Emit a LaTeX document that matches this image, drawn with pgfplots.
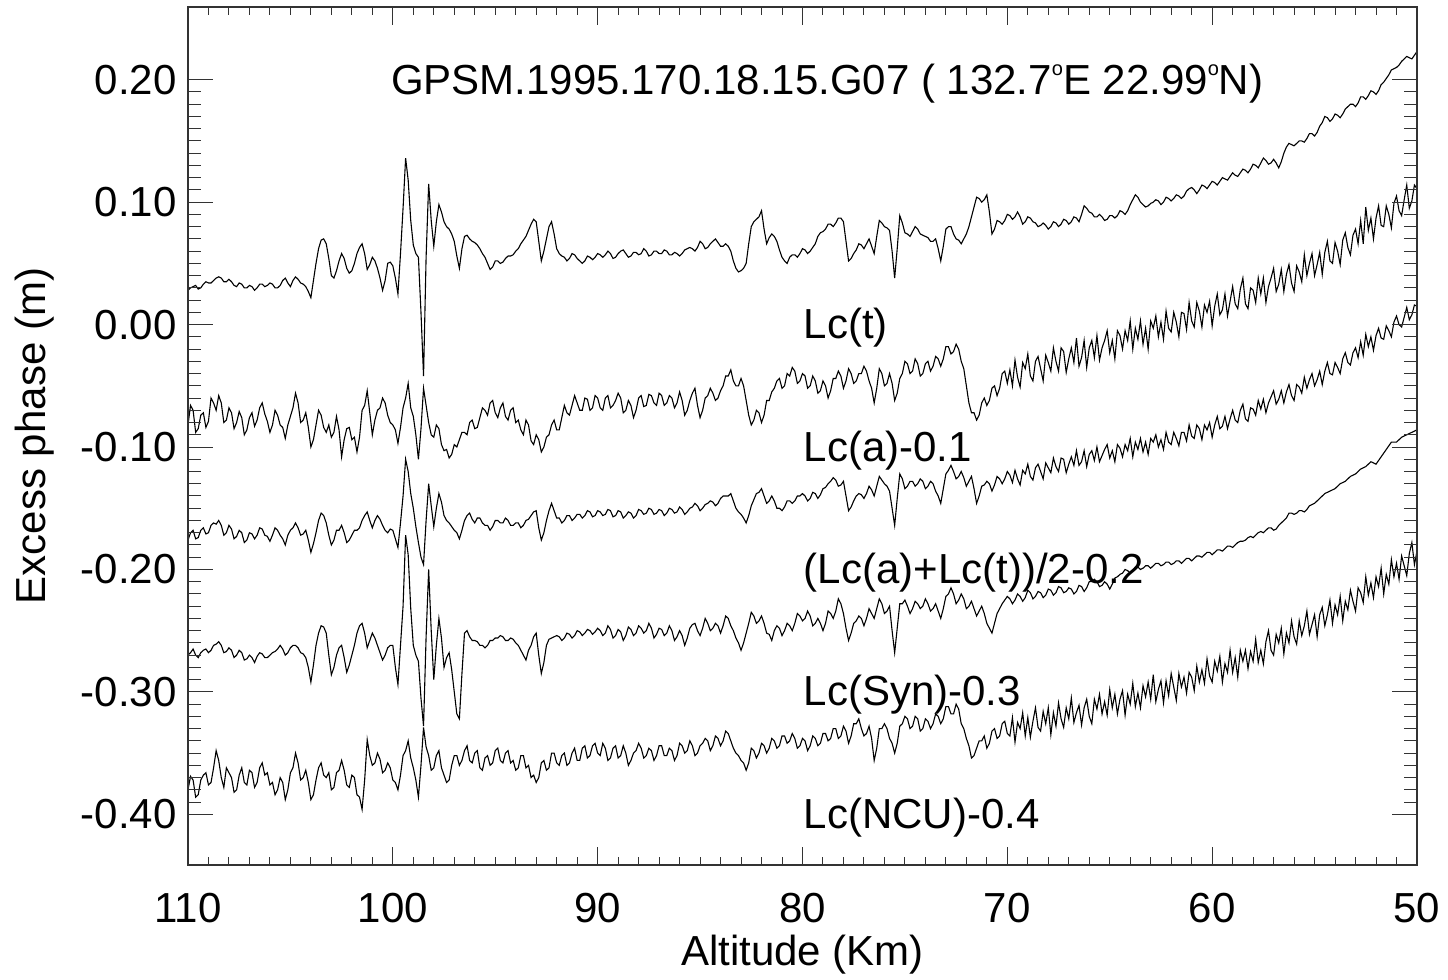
\documentclass[border=0pt]{standalone}
\usepackage{fontspec}
\setmainfont{Liberation Sans}
\usepackage{pgfplots}
\pgfplotsset{compat=1.18}
\usepackage{pgfplotstable}
\pgfplotstableread{
x t a m s n
110 0.028 -0.082 -0.176 -0.270 -0.380
109.875 0.030 -0.066 -0.170 -0.268 -0.369
109.75 0.031 -0.070 -0.168 -0.265 -0.372
109.625 0.032 -0.088 -0.175 -0.270 -0.386
109.5 0.029 -0.085 -0.174 -0.272 -0.384
109.375 0.030 -0.074 -0.168 -0.268 -0.372
109.25 0.033 -0.072 -0.166 -0.266 -0.368
109.125 0.035 -0.084 -0.171 -0.265 -0.366
109 0.034 -0.079 -0.170 -0.268 -0.376
108.875 0.034 -0.060 -0.164 -0.266 -0.374
108.75 0.036 -0.064 -0.162 -0.262 -0.362
108.625 0.038 -0.070 -0.163 -0.261 -0.348
108.5 0.039 -0.058 -0.160 -0.259 -0.356
108.375 0.038 -0.064 -0.164 -0.262 -0.370
108.25 0.035 -0.080 -0.172 -0.268 -0.378
108.125 0.035 -0.078 -0.170 -0.267 -0.362
108 0.037 -0.068 -0.164 -0.264 -0.366
107.875 0.035 -0.072 -0.167 -0.266 -0.370
107.75 0.032 -0.085 -0.175 -0.272 -0.382
107.625 0.031 -0.080 -0.173 -0.270 -0.380
107.5 0.034 -0.071 -0.168 -0.266 -0.368
107.375 0.033 -0.076 -0.170 -0.268 -0.362
107.25 0.030 -0.090 -0.178 -0.274 -0.374
107.125 0.030 -0.086 -0.176 -0.273 -0.376
107 0.032 -0.076 -0.170 -0.270 -0.364
106.875 0.031 -0.072 -0.171 -0.272 -0.366
106.75 0.028 -0.083 -0.175 -0.276 -0.378
106.625 0.030 -0.078 -0.172 -0.271 -0.374
106.5 0.033 -0.068 -0.166 -0.268 -0.362
106.375 0.033 -0.064 -0.167 -0.269 -0.358
106.25 0.031 -0.073 -0.172 -0.272 -0.368
106.125 0.032 -0.079 -0.173 -0.272 -0.366
106 0.034 -0.088 -0.177 -0.270 -0.376
105.875 0.033 -0.082 -0.172 -0.268 -0.374
105.75 0.030 -0.070 -0.166 -0.267 -0.384
105.625 0.030 -0.074 -0.168 -0.265 -0.380
105.5 0.032 -0.082 -0.172 -0.262 -0.370
105.375 0.036 -0.084 -0.175 -0.265 -0.374
105.25 0.038 -0.093 -0.180 -0.270 -0.388
105.125 0.034 -0.082 -0.172 -0.268 -0.380
105 0.031 -0.075 -0.168 -0.264 -0.366
104.875 0.036 -0.068 -0.166 -0.262 -0.362
104.75 0.039 -0.056 -0.162 -0.262 -0.350
104.625 0.037 -0.064 -0.166 -0.264 -0.358
104.5 0.034 -0.080 -0.172 -0.268 -0.372
104.375 0.033 -0.078 -0.171 -0.269 -0.370
104.25 0.031 -0.072 -0.168 -0.272 -0.364
104.125 0.027 -0.084 -0.176 -0.280 -0.374
104 0.022 -0.100 -0.186 -0.292 -0.388
103.875 0.036 -0.094 -0.179 -0.278 -0.384
103.75 0.050 -0.082 -0.170 -0.262 -0.372
103.625 0.062 -0.070 -0.160 -0.252 -0.362
103.5 0.069 -0.074 -0.154 -0.246 -0.358
103.375 0.070 -0.084 -0.156 -0.247 -0.368
103.25 0.066 -0.088 -0.162 -0.252 -0.370
103.125 0.054 -0.082 -0.172 -0.270 -0.366
103 0.040 -0.092 -0.180 -0.286 -0.380
102.875 0.038 -0.088 -0.176 -0.280 -0.378
102.75 0.044 -0.075 -0.168 -0.270 -0.366
102.625 0.052 -0.086 -0.168 -0.264 -0.364
102.5 0.058 -0.108 -0.164 -0.262 -0.356
102.375 0.054 -0.094 -0.170 -0.272 -0.364
102.25 0.046 -0.085 -0.178 -0.284 -0.376
102.125 0.042 -0.084 -0.176 -0.278 -0.378
102 0.044 -0.094 -0.172 -0.270 -0.368
101.875 0.050 -0.092 -0.168 -0.262 -0.370
101.75 0.058 -0.104 -0.168 -0.252 -0.384
101.625 0.063 -0.092 -0.166 -0.246 -0.386
101.5 0.066 -0.070 -0.160 -0.244 -0.396
101.375 0.058 -0.066 -0.156 -0.252 -0.372
101.25 0.045 -0.054 -0.153 -0.264 -0.339
101.125 0.049 -0.072 -0.160 -0.258 -0.352
101 0.055 -0.090 -0.166 -0.252 -0.360
100.875 0.052 -0.078 -0.160 -0.256 -0.358
100.75 0.046 -0.070 -0.156 -0.262 -0.350
100.625 0.038 -0.068 -0.159 -0.268 -0.355
100.5 0.028 -0.060 -0.164 -0.274 -0.366
100.375 0.036 -0.064 -0.168 -0.270 -0.364
100.25 0.050 -0.074 -0.170 -0.264 -0.358
100.125 0.051 -0.080 -0.167 -0.262 -0.362
100 0.048 -0.082 -0.168 -0.262 -0.372
99.875 0.038 -0.086 -0.175 -0.280 -0.374
99.75 0.025 -0.097 -0.182 -0.294 -0.380
99.625 0.058 -0.084 -0.162 -0.262 -0.368
99.5 0.095 -0.068 -0.140 -0.230 -0.352
99.375 0.136 -0.060 -0.110 -0.172 -0.348
99.25 0.118 -0.048 -0.120 -0.188 -0.340
99.125 0.085 -0.068 -0.138 -0.232 -0.354
99 0.065 -0.075 -0.150 -0.262 -0.362
98.875 0.058 -0.090 -0.165 -0.270 -0.372
98.75 0.055 -0.110 -0.178 -0.275 -0.386
98.625 0.010 -0.085 -0.190 -0.305 -0.360
98.5 -0.042 -0.052 -0.196 -0.328 -0.329
98.375 0.055 -0.066 -0.160 -0.255 -0.345
98.25 0.115 -0.080 -0.130 -0.200 -0.352
98.125 0.085 -0.090 -0.148 -0.250 -0.364
98 0.064 -0.092 -0.165 -0.290 -0.362
97.875 0.084 -0.082 -0.150 -0.262 -0.352
97.75 0.098 -0.085 -0.138 -0.240 -0.348
97.625 0.092 -0.098 -0.145 -0.256 -0.362
97.5 0.084 -0.103 -0.156 -0.280 -0.368
97.375 0.080 -0.102 -0.160 -0.272 -0.374
97.25 0.078 -0.109 -0.162 -0.268 -0.372
97.125 0.074 -0.106 -0.165 -0.282 -0.360
97 0.068 -0.098 -0.168 -0.300 -0.352
96.875 0.056 -0.100 -0.170 -0.318 -0.352
96.75 0.046 -0.094 -0.175 -0.322 -0.360
96.625 0.062 -0.088 -0.168 -0.285 -0.356
96.5 0.072 -0.088 -0.160 -0.252 -0.348
96.375 0.073 -0.090 -0.156 -0.250 -0.344
96.25 0.070 -0.080 -0.154 -0.255 -0.356
96.125 0.068 -0.078 -0.159 -0.258 -0.358
96 0.067 -0.085 -0.162 -0.258 -0.350
95.875 0.065 -0.084 -0.158 -0.259 -0.348
95.75 0.062 -0.076 -0.158 -0.262 -0.362
95.625 0.058 -0.068 -0.162 -0.262 -0.364
95.5 0.055 -0.070 -0.164 -0.264 -0.354
95.375 0.050 -0.074 -0.164 -0.262 -0.352
95.25 0.045 -0.064 -0.168 -0.258 -0.360
95.125 0.047 -0.062 -0.165 -0.258 -0.358
95 0.052 -0.072 -0.160 -0.256 -0.348
94.875 0.052 -0.076 -0.160 -0.256 -0.346
94.75 0.050 -0.068 -0.162 -0.254 -0.356
94.625 0.051 -0.064 -0.162 -0.255 -0.358
94.5 0.054 -0.075 -0.158 -0.258 -0.350
94.375 0.056 -0.078 -0.160 -0.258 -0.348
94.25 0.056 -0.070 -0.164 -0.256 -0.358
94.125 0.057 -0.068 -0.164 -0.257 -0.356
94 0.060 -0.080 -0.162 -0.260 -0.364
93.875 0.062 -0.078 -0.162 -0.262 -0.362
93.75 0.066 -0.086 -0.166 -0.266 -0.352
93.625 0.069 -0.090 -0.164 -0.270 -0.352
93.5 0.072 -0.078 -0.160 -0.274 -0.362
93.375 0.077 -0.082 -0.159 -0.266 -0.360
93.25 0.082 -0.095 -0.156 -0.262 -0.370
93.125 0.086 -0.098 -0.153 -0.255 -0.368
93 0.084 -0.090 -0.152 -0.252 -0.374
92.875 0.068 -0.094 -0.166 -0.270 -0.370
92.75 0.052 -0.104 -0.176 -0.285 -0.358
92.625 0.060 -0.100 -0.170 -0.276 -0.356
92.5 0.070 -0.092 -0.160 -0.262 -0.364
92.375 0.080 -0.090 -0.152 -0.257 -0.362
92.25 0.084 -0.082 -0.146 -0.256 -0.350
92.125 0.074 -0.078 -0.152 -0.255 -0.350
92 0.062 -0.086 -0.158 -0.254 -0.358
91.875 0.058 -0.086 -0.158 -0.255 -0.360
91.75 0.056 -0.076 -0.162 -0.258 -0.352
91.625 0.055 -0.066 -0.160 -0.256 -0.350
91.5 0.052 -0.072 -0.156 -0.252 -0.360
91.375 0.054 -0.074 -0.156 -0.253 -0.358
91.25 0.058 -0.066 -0.160 -0.256 -0.350
91.125 0.057 -0.058 -0.158 -0.254 -0.346
91 0.054 -0.064 -0.155 -0.250 -0.356
90.875 0.052 -0.070 -0.155 -0.251 -0.356
90.75 0.050 -0.070 -0.158 -0.254 -0.346
90.625 0.052 -0.060 -0.156 -0.252 -0.344
90.5 0.056 -0.061 -0.152 -0.249 -0.354
90.375 0.055 -0.070 -0.153 -0.250 -0.352
90.25 0.053 -0.068 -0.157 -0.253 -0.344
90.125 0.055 -0.058 -0.156 -0.251 -0.342
90 0.058 -0.060 -0.152 -0.248 -0.350
89.875 0.057 -0.068 -0.153 -0.250 -0.352
89.75 0.055 -0.070 -0.156 -0.254 -0.342
89.625 0.057 -0.060 -0.155 -0.252 -0.346
89.5 0.060 -0.058 -0.151 -0.246 -0.356
89.375 0.058 -0.068 -0.152 -0.249 -0.354
89.25 0.054 -0.066 -0.157 -0.256 -0.346
89.125 0.055 -0.062 -0.156 -0.254 -0.344
89 0.058 -0.056 -0.152 -0.249 -0.354
88.875 0.060 -0.060 -0.153 -0.251 -0.352
88.75 0.061 -0.072 -0.158 -0.258 -0.344
88.625 0.058 -0.070 -0.156 -0.254 -0.350
88.5 0.055 -0.062 -0.153 -0.247 -0.360
88.375 0.056 -0.066 -0.154 -0.249 -0.356
88.25 0.059 -0.076 -0.158 -0.254 -0.350
88.125 0.059 -0.070 -0.156 -0.252 -0.348
88 0.057 -0.060 -0.151 -0.246 -0.342
87.875 0.058 -0.058 -0.152 -0.248 -0.346
87.75 0.062 -0.067 -0.155 -0.252 -0.354
87.625 0.060 -0.066 -0.154 -0.250 -0.352
87.5 0.056 -0.057 -0.150 -0.244 -0.346
87.375 0.057 -0.058 -0.151 -0.248 -0.348
87.25 0.060 -0.064 -0.155 -0.256 -0.356
87.125 0.060 -0.066 -0.154 -0.253 -0.352
87 0.058 -0.056 -0.151 -0.248 -0.344
86.875 0.058 -0.058 -0.152 -0.249 -0.344
86.75 0.061 -0.066 -0.156 -0.254 -0.352
86.625 0.060 -0.064 -0.154 -0.252 -0.352
86.5 0.057 -0.058 -0.150 -0.246 -0.346
86.375 0.057 -0.060 -0.151 -0.250 -0.348
86.25 0.059 -0.068 -0.154 -0.258 -0.356
86.125 0.058 -0.064 -0.153 -0.255 -0.352
86 0.056 -0.055 -0.149 -0.250 -0.342
85.875 0.058 -0.062 -0.151 -0.254 -0.344
85.75 0.061 -0.074 -0.155 -0.262 -0.350
85.625 0.062 -0.070 -0.153 -0.256 -0.348
85.5 0.063 -0.062 -0.150 -0.248 -0.340
85.375 0.062 -0.056 -0.149 -0.245 -0.344
85.25 0.060 -0.052 -0.146 -0.244 -0.352
85.125 0.063 -0.066 -0.148 -0.250 -0.350
85 0.068 -0.076 -0.152 -0.254 -0.344
84.875 0.066 -0.070 -0.150 -0.248 -0.342
84.75 0.062 -0.060 -0.147 -0.240 -0.338
84.625 0.063 -0.058 -0.146 -0.244 -0.340
84.5 0.066 -0.052 -0.144 -0.250 -0.348
84.375 0.068 -0.056 -0.145 -0.248 -0.344
84.25 0.070 -0.062 -0.148 -0.244 -0.336
84.125 0.067 -0.060 -0.146 -0.246 -0.338
84 0.064 -0.054 -0.142 -0.252 -0.344
83.875 0.064 -0.050 -0.140 -0.246 -0.340
83.75 0.066 -0.042 -0.140 -0.238 -0.332
83.625 0.064 -0.042 -0.140 -0.240 -0.334
83.5 0.060 -0.037 -0.138 -0.246 -0.340
83.375 0.052 -0.046 -0.144 -0.250 -0.346
83.25 0.046 -0.050 -0.150 -0.256 -0.350
83.125 0.043 -0.050 -0.153 -0.260 -0.352
83 0.044 -0.044 -0.155 -0.266 -0.356
82.875 0.046 -0.050 -0.158 -0.260 -0.358
82.75 0.050 -0.062 -0.162 -0.252 -0.364
82.625 0.066 -0.074 -0.156 -0.244 -0.358
82.5 0.080 -0.082 -0.148 -0.235 -0.346
82.375 0.084 -0.078 -0.143 -0.238 -0.348
82.25 0.086 -0.070 -0.138 -0.244 -0.354
82.125 0.088 -0.072 -0.137 -0.242 -0.350
82 0.093 -0.080 -0.134 -0.238 -0.342
81.875 0.078 -0.074 -0.140 -0.244 -0.344
81.75 0.066 -0.062 -0.146 -0.252 -0.350
81.625 0.071 -0.062 -0.144 -0.253 -0.346
81.5 0.074 -0.055 -0.140 -0.258 -0.338
81.375 0.072 -0.052 -0.144 -0.250 -0.340
81.25 0.068 -0.046 -0.150 -0.246 -0.346
81.125 0.061 -0.044 -0.150 -0.248 -0.344
81 0.055 -0.052 -0.152 -0.254 -0.336
80.875 0.052 -0.050 -0.149 -0.250 -0.336
80.75 0.050 -0.040 -0.144 -0.244 -0.342
80.625 0.055 -0.042 -0.144 -0.246 -0.340
80.5 0.057 -0.035 -0.146 -0.250 -0.334
80.375 0.057 -0.038 -0.144 -0.244 -0.338
80.25 0.055 -0.048 -0.140 -0.236 -0.346
80.125 0.058 -0.046 -0.140 -0.238 -0.344
80 0.062 -0.040 -0.138 -0.242 -0.338
79.875 0.061 -0.042 -0.140 -0.240 -0.340
79.75 0.058 -0.052 -0.144 -0.234 -0.348
79.625 0.060 -0.050 -0.142 -0.238 -0.344
79.5 0.063 -0.042 -0.137 -0.246 -0.336
79.375 0.066 -0.046 -0.138 -0.244 -0.338
79.25 0.072 -0.056 -0.142 -0.240 -0.344
79.125 0.075 -0.054 -0.139 -0.244 -0.342
79 0.076 -0.046 -0.134 -0.250 -0.334
78.875 0.078 -0.050 -0.133 -0.244 -0.334
78.75 0.082 -0.060 -0.130 -0.234 -0.340
78.625 0.082 -0.054 -0.128 -0.236 -0.338
78.5 0.080 -0.044 -0.125 -0.240 -0.330
78.375 0.083 -0.044 -0.127 -0.234 -0.330
78.25 0.087 -0.038 -0.132 -0.224 -0.338
78.125 0.087 -0.042 -0.131 -0.228 -0.336
78 0.084 -0.052 -0.128 -0.236 -0.328
77.875 0.068 -0.046 -0.140 -0.248 -0.332
77.75 0.052 -0.036 -0.152 -0.258 -0.342
77.625 0.054 -0.040 -0.149 -0.252 -0.336
77.5 0.058 -0.048 -0.144 -0.244 -0.326
77.375 0.061 -0.046 -0.140 -0.242 -0.326
77.25 0.066 -0.040 -0.138 -0.238 -0.322
77.125 0.065 -0.040 -0.139 -0.240 -0.330
77 0.062 -0.034 -0.142 -0.246 -0.336
76.875 0.066 -0.038 -0.138 -0.240 -0.334
76.75 0.070 -0.046 -0.132 -0.232 -0.328
76.625 0.064 -0.052 -0.135 -0.236 -0.338
76.5 0.058 -0.064 -0.140 -0.240 -0.356
76.375 0.072 -0.052 -0.132 -0.232 -0.346
76.25 0.085 -0.036 -0.124 -0.224 -0.330
76.125 0.083 -0.040 -0.127 -0.228 -0.330
76 0.080 -0.050 -0.130 -0.236 -0.326
75.875 0.079 -0.048 -0.132 -0.234 -0.330
75.75 0.077 -0.040 -0.136 -0.230 -0.338
75.625 0.060 -0.048 -0.150 -0.250 -0.342
75.5 0.038 -0.062 -0.164 -0.268 -0.350
75.375 0.062 -0.056 -0.142 -0.248 -0.342
75.25 0.089 -0.044 -0.122 -0.228 -0.328
75.125 0.083 -0.040 -0.126 -0.228 -0.326
75 0.075 -0.030 -0.134 -0.225 -0.320
74.875 0.074 -0.032 -0.132 -0.230 -0.322
74.75 0.072 -0.040 -0.128 -0.236 -0.330
74.625 0.076 -0.038 -0.128 -0.232 -0.328
74.5 0.080 -0.028 -0.132 -0.226 -0.320
74.375 0.078 -0.032 -0.130 -0.228 -0.322
74.25 0.074 -0.042 -0.126 -0.232 -0.332
74.125 0.073 -0.040 -0.128 -0.230 -0.330
74 0.072 -0.032 -0.134 -0.224 -0.322
73.875 0.071 -0.030 -0.132 -0.228 -0.324
73.75 0.068 -0.038 -0.128 -0.234 -0.330
73.625 0.068 -0.034 -0.130 -0.232 -0.326
73.5 0.070 -0.026 -0.136 -0.228 -0.318
73.375 0.062 -0.028 -0.140 -0.234 -0.320
73.25 0.052 -0.034 -0.146 -0.240 -0.326
73.125 0.064 -0.028 -0.134 -0.232 -0.322
73 0.078 -0.018 -0.122 -0.222 -0.312
72.875 0.080 -0.018 -0.119 -0.220 -0.312
72.75 0.080 -0.024 -0.115 -0.215 -0.318
72.625 0.074 -0.022 -0.120 -0.220 -0.318
72.5 0.070 -0.016 -0.126 -0.228 -0.310
72.375 0.069 -0.020 -0.124 -0.225 -0.314
72.25 0.066 -0.030 -0.120 -0.220 -0.326
72.125 0.070 -0.036 -0.125 -0.224 -0.330
72 0.074 -0.050 -0.132 -0.232 -0.338
71.875 0.080 -0.064 -0.128 -0.230 -0.344
71.75 0.088 -0.072 -0.124 -0.226 -0.354
71.625 0.096 -0.072 -0.134 -0.232 -0.352
71.5 0.104 -0.078 -0.146 -0.238 -0.346
71.375 0.103 -0.074 -0.140 -0.234 -0.340
71.25 0.100 -0.064 -0.132 -0.230 -0.340
71.125 0.102 -0.060 -0.131 -0.236 -0.336
71 0.106 -0.066 -0.128 -0.244 -0.346
70.875 0.092 -0.062 -0.130 -0.248 -0.342
70.75 0.074 -0.052 -0.136 -0.252 -0.332
70.625 0.078 -0.050 -0.131 -0.244 -0.330
70.5 0.085 -0.058 -0.124 -0.236 -0.338
70.375 0.084 -0.052 -0.126 -0.232 -0.336
70.25 0.082 -0.040 -0.130 -0.228 -0.326
70.125 0.085 -0.038 -0.126 -0.225 -0.324
70 0.090 -0.048 -0.120 -0.222 -0.334
69.875 0.089 -0.037 -0.123 -0.224 -0.336
69.75 0.086 -0.050 -0.129 -0.228 -0.321
69.625 0.088 -0.029 -0.119 -0.225 -0.341
69.5 0.092 -0.043 -0.126 -0.220 -0.325
69.375 0.088 -0.051 -0.131 -0.222 -0.330
69.25 0.082 -0.031 -0.119 -0.226 -0.317
69.125 0.084 -0.036 -0.122 -0.223 -0.336
69 0.088 -0.024 -0.114 -0.217 -0.321
68.875 0.087 -0.042 -0.124 -0.219 -0.337
68.75 0.084 -0.046 -0.127 -0.224 -0.324
68.625 0.083 -0.030 -0.117 -0.222 -0.313
68.5 0.080 -0.026 -0.114 -0.218 -0.329
68.375 0.081 -0.036 -0.120 -0.219 -0.332
68.25 0.083 -0.046 -0.126 -0.223 -0.316
68.125 0.081 -0.025 -0.113 -0.221 -0.326
68 0.078 -0.031 -0.117 -0.216 -0.313
67.875 0.080 -0.038 -0.121 -0.217 -0.335
67.75 0.084 -0.019 -0.109 -0.221 -0.317
67.625 0.083 -0.030 -0.116 -0.219 -0.328
67.5 0.080 -0.038 -0.120 -0.214 -0.309
67.375 0.082 -0.019 -0.109 -0.215 -0.322
67.25 0.086 -0.022 -0.110 -0.219 -0.329
67.125 0.085 -0.039 -0.121 -0.218 -0.313
67 0.082 -0.028 -0.114 -0.215 -0.322
66.875 0.084 -0.019 -0.108 -0.216 -0.305
66.75 0.088 -0.031 -0.115 -0.220 -0.325
66.625 0.087 -0.011 -0.103 -0.218 -0.317
66.5 0.084 -0.034 -0.115 -0.213 -0.311
66.375 0.090 -0.027 -0.112 -0.214 -0.327
66.25 0.097 -0.013 -0.103 -0.218 -0.313
66.125 0.095 -0.035 -0.116 -0.215 -0.306
66 0.092 -0.019 -0.106 -0.210 -0.320
65.875 0.091 -0.013 -0.103 -0.210 -0.326
65.75 0.088 -0.027 -0.111 -0.208 -0.306
65.625 0.088 -0.009 -0.100 -0.210 -0.314
65.5 0.090 -0.029 -0.112 -0.214 -0.302
65.375 0.088 -0.019 -0.107 -0.213 -0.318
65.25 0.085 -0.013 -0.102 -0.210 -0.308
65.125 0.086 -0.005 -0.098 -0.212 -0.319
65 0.089 -0.023 -0.109 -0.216 -0.298
64.875 0.089 -0.013 -0.103 -0.212 -0.313
64.75 0.087 -0.028 -0.112 -0.207 -0.302
64.625 0.089 -0.005 -0.098 -0.206 -0.318
64.5 0.093 -0.009 -0.101 -0.204 -0.306
64.375 0.092 -0.020 -0.108 -0.203 -0.299
64.25 0.090 -0.005 -0.098 -0.200 -0.319
64.125 0.093 -0.013 -0.103 -0.201 -0.302
64 0.098 0.003 -0.093 -0.203 -0.310
63.875 0.102 -0.020 -0.108 -0.201 -0.293
63.75 0.106 -0.003 -0.096 -0.198 -0.312
63.625 0.104 -0.012 -0.102 -0.198 -0.301
63.5 0.100 0.003 -0.093 -0.200 -0.313
63.375 0.098 -0.016 -0.104 -0.199 -0.295
63.25 0.096 -0.003 -0.096 -0.197 -0.304
63.125 0.097 -0.020 -0.106 -0.197 -0.292
63 0.099 0.003 -0.093 -0.199 -0.306
62.875 0.100 -0.003 -0.096 -0.197 -0.286
62.75 0.102 0.007 -0.090 -0.195 -0.308
62.625 0.101 -0.010 -0.100 -0.195 -0.298
62.5 0.098 0.002 -0.094 -0.197 -0.291
62.375 0.100 -0.012 -0.102 -0.196 -0.309
62.25 0.104 0.011 -0.088 -0.194 -0.291
62.125 0.103 -0.003 -0.096 -0.194 -0.303
62 0.101 -0.006 -0.098 -0.196 -0.285
61.875 0.103 0.010 -0.088 -0.195 -0.296
61.75 0.106 0.002 -0.093 -0.193 -0.307
61.625 0.105 -0.010 -0.099 -0.193 -0.285
61.5 0.103 0.010 -0.088 -0.195 -0.296
61.375 0.105 0.009 -0.088 -0.193 -0.288
61.25 0.109 -0.004 -0.095 -0.191 -0.301
61.125 0.111 0.018 -0.082 -0.191 -0.284
61 0.112 0.003 -0.091 -0.193 -0.288
60.875 0.110 -0.002 -0.093 -0.191 -0.299
60.75 0.107 0.018 -0.082 -0.189 -0.279
60.625 0.110 0.011 -0.085 -0.189 -0.292
60.5 0.114 -0.002 -0.094 -0.190 -0.282
60.375 0.113 0.016 -0.082 -0.188 -0.293
60.25 0.111 0.010 -0.086 -0.186 -0.273
60.125 0.114 0.019 -0.080 -0.186 -0.287
60 0.117 -0.001 -0.092 -0.188 -0.292
59.875 0.116 0.015 -0.082 -0.186 -0.275
59.75 0.114 0.025 -0.075 -0.184 -0.283
59.625 0.117 0.008 -0.085 -0.184 -0.271
59.5 0.120 0.012 -0.083 -0.185 -0.292
59.375 0.119 0.025 -0.075 -0.183 -0.277
59.25 0.118 0.007 -0.085 -0.181 -0.284
59.125 0.121 0.019 -0.077 -0.181 -0.266
59 0.124 0.031 -0.070 -0.182 -0.284
58.875 0.122 0.017 -0.078 -0.180 -0.272
58.75 0.121 0.013 -0.080 -0.178 -0.288
58.625 0.124 0.029 -0.070 -0.177 -0.266
58.5 0.127 0.038 -0.065 -0.177 -0.275
58.375 0.126 0.017 -0.077 -0.176 -0.266
58.25 0.124 0.013 -0.079 -0.174 -0.281
58.125 0.127 0.030 -0.068 -0.173 -0.267
58 0.131 0.028 -0.069 -0.174 -0.275
57.875 0.130 0.018 -0.074 -0.172 -0.257
57.75 0.128 0.038 -0.062 -0.170 -0.276
57.625 0.132 0.025 -0.069 -0.169 -0.266
57.5 0.136 0.038 -0.061 -0.170 -0.277
57.375 0.134 0.018 -0.072 -0.168 -0.259
57.25 0.131 0.031 -0.064 -0.166 -0.250
57.125 0.132 0.038 -0.059 -0.166 -0.266
57 0.135 0.046 -0.054 -0.168 -0.270
56.875 0.132 0.027 -0.065 -0.167 -0.253
56.75 0.128 0.033 -0.061 -0.164 -0.260
56.625 0.133 0.045 -0.054 -0.162 -0.248
56.5 0.140 0.027 -0.064 -0.160 -0.269
56.375 0.145 0.041 -0.055 -0.158 -0.252
56.25 0.148 0.049 -0.049 -0.154 -0.260
56.125 0.147 0.034 -0.058 -0.154 -0.242
56 0.146 0.027 -0.062 -0.155 -0.255
55.875 0.148 0.048 -0.049 -0.154 -0.261
55.75 0.150 0.043 -0.051 -0.152 -0.242
55.625 0.150 0.035 -0.056 -0.152 -0.254
55.5 0.149 0.057 -0.043 -0.153 -0.246
55.375 0.152 0.040 -0.052 -0.151 -0.234
55.25 0.156 0.050 -0.045 -0.148 -0.253
55.125 0.156 0.058 -0.040 -0.147 -0.245
55 0.154 0.040 -0.050 -0.146 -0.237
54.875 0.157 0.049 -0.045 -0.144 -0.255
54.75 0.162 0.059 -0.038 -0.142 -0.237
54.625 0.165 0.041 -0.049 -0.140 -0.231
54.5 0.170 0.059 -0.038 -0.138 -0.246
54.375 0.169 0.068 -0.031 -0.137 -0.237
54.25 0.166 0.052 -0.040 -0.136 -0.225
54.125 0.168 0.050 -0.041 -0.135 -0.244
54 0.172 0.067 -0.031 -0.134 -0.229
53.875 0.171 0.060 -0.035 -0.132 -0.237
53.75 0.169 0.049 -0.040 -0.130 -0.222
53.625 0.172 0.069 -0.028 -0.129 -0.242
53.5 0.176 0.075 -0.023 -0.128 -0.226
53.375 0.178 0.063 -0.031 -0.126 -0.233
53.25 0.180 0.057 -0.033 -0.124 -0.217
53.125 0.180 0.073 -0.023 -0.123 -0.226
53 0.178 0.078 -0.019 -0.122 -0.234
52.875 0.181 0.066 -0.027 -0.120 -0.215
52.75 0.186 0.085 -0.014 -0.118 -0.219
52.625 0.186 0.066 -0.025 -0.117 -0.227
52.5 0.184 0.096 -0.008 -0.116 -0.206
52.375 0.187 0.077 -0.018 -0.114 -0.221
52.25 0.191 0.087 -0.010 -0.112 -0.211
52.125 0.190 0.070 -0.021 -0.113 -0.223
52 0.188 0.087 -0.009 -0.114 -0.206
51.875 0.191 0.097 -0.003 -0.111 -0.214
51.75 0.196 0.081 -0.011 -0.108 -0.199
51.625 0.198 0.080 -0.012 -0.105 -0.220
51.5 0.201 0.097 -0.001 -0.102 -0.204
51.375 0.204 0.090 -0.005 -0.099 -0.212
51.25 0.208 0.079 -0.010 -0.096 -0.192
51.125 0.209 0.099 0.002 -0.096 -0.206
51 0.210 0.105 0.007 -0.096 -0.195
50.875 0.212 0.093 0.000 -0.094 -0.208
50.75 0.215 0.089 -0.002 -0.092 -0.189
50.625 0.217 0.102 0.006 -0.091 -0.197
50.5 0.219 0.114 0.014 -0.090 -0.205
50.375 0.218 0.095 0.004 -0.089 -0.187
50.25 0.217 0.101 0.008 -0.088 -0.178
50.125 0.220 0.114 0.016 -0.087 -0.196
50 0.223 0.111 0.015 -0.086 -0.185
}\datatab

\newcommand{\bigf}{\fontsize{21}{25}\selectfont}
\newcommand{\degsym}{\raisebox{9.5pt}{\fontsize{10}{10}\selectfont o}}

\begin{document}
\begin{tikzpicture}
\pgfplotsset{
  common/.style={
    width=614.5pt, height=429pt, scale only axis,
    x dir=reverse, xmin=50, xmax=110, ymin=-0.4414, ymax=0.2594,
    axis line style={line width=0.7pt, black!80},
    tick align=inside, tick pos=both,
    tick style={black!80, line width=0.5pt},
  }
}
\begin{axis}[common,
  xtick={50,60,70,80,90,100,110},
  xticklabels={50,60,70,80,90,100,110},
  minor x tick num=9,
  ytick={-0.4,-0.3,-0.2,-0.1,0,0.1,0.2},
  yticklabels={-0.40,-0.30,-0.20,-0.10,0.00,0.10,0.20},
  ytick style={draw=none},
  major tick length=9pt, minor tick length=4pt,
  every tick label/.append style={font=\bigf},
  xticklabel style={anchor=base, inner sep=0pt, yshift=-28.5pt},
  yticklabel style={anchor=east, inner sep=0pt, xshift=-5.5pt},
  label style={font=\bigf},
  xlabel={Altitude (Km)},
  ylabel={Excess phase (m)},
  xlabel style={at={(axis description cs:0.5,-0.105)}, anchor=center},
  ylabel style={at={(axis description cs:-0.1245,0.5)}, anchor=center},
]
\addplot[black, line width=0.55pt] table[x=x, y=t] {\datatab};
\addplot[black, line width=0.55pt] table[x=x, y=a] {\datatab};
\addplot[black, line width=0.55pt] table[x=x, y=m] {\datatab};
\addplot[black, line width=0.55pt] table[x=x, y=s] {\datatab};
\addplot[black, line width=0.55pt] table[x=x, y=n] {\datatab};
\node[anchor=base west, inner sep=0pt, font=\bigf] at (axis cs:100.1,0.1877)
  {GPSM.1995.170.18.15.G07 ( 132.7\degsym E 22.99\degsym N)};
\node[anchor=base west, inner sep=0pt, font=\bigf] at (axis cs:79.95,-0.0115) {Lc(t)};
\node[anchor=base west, inner sep=0pt, font=\bigf] at (axis cs:79.95,-0.1115) {Lc(a)-0.1};
\node[anchor=base west, inner sep=0pt, font=\bigf] at (axis cs:79.95,-0.2115) {(Lc(a)+Lc(t))/2-0.2};
\node[anchor=base west, inner sep=0pt, font=\bigf] at (axis cs:79.95,-0.3115) {Lc(Syn)-0.3};
\node[anchor=base west, inner sep=0pt, font=\bigf] at (axis cs:79.95,-0.4115) {Lc(NCU)-0.4};
\coordinate (sw) at (rel axis cs:0,0);
\coordinate (ne) at (rel axis cs:1,1);
\end{axis}
\begin{axis}[common,
  xtick=\empty,
  ytick={-0.4,-0.3,-0.2,-0.1,0,0.1,0.2},
  yticklabel=\empty,
  minor y tick num=9,
  major tick length=12.5pt, minor tick length=6.5pt,
]
\end{axis}
\pgfresetboundingbox
\path ([shift={(-94pt,-57pt)}]sw) rectangle ([shift={(15.5pt,3.5pt)}]ne);
\end{tikzpicture}
\end{document}
